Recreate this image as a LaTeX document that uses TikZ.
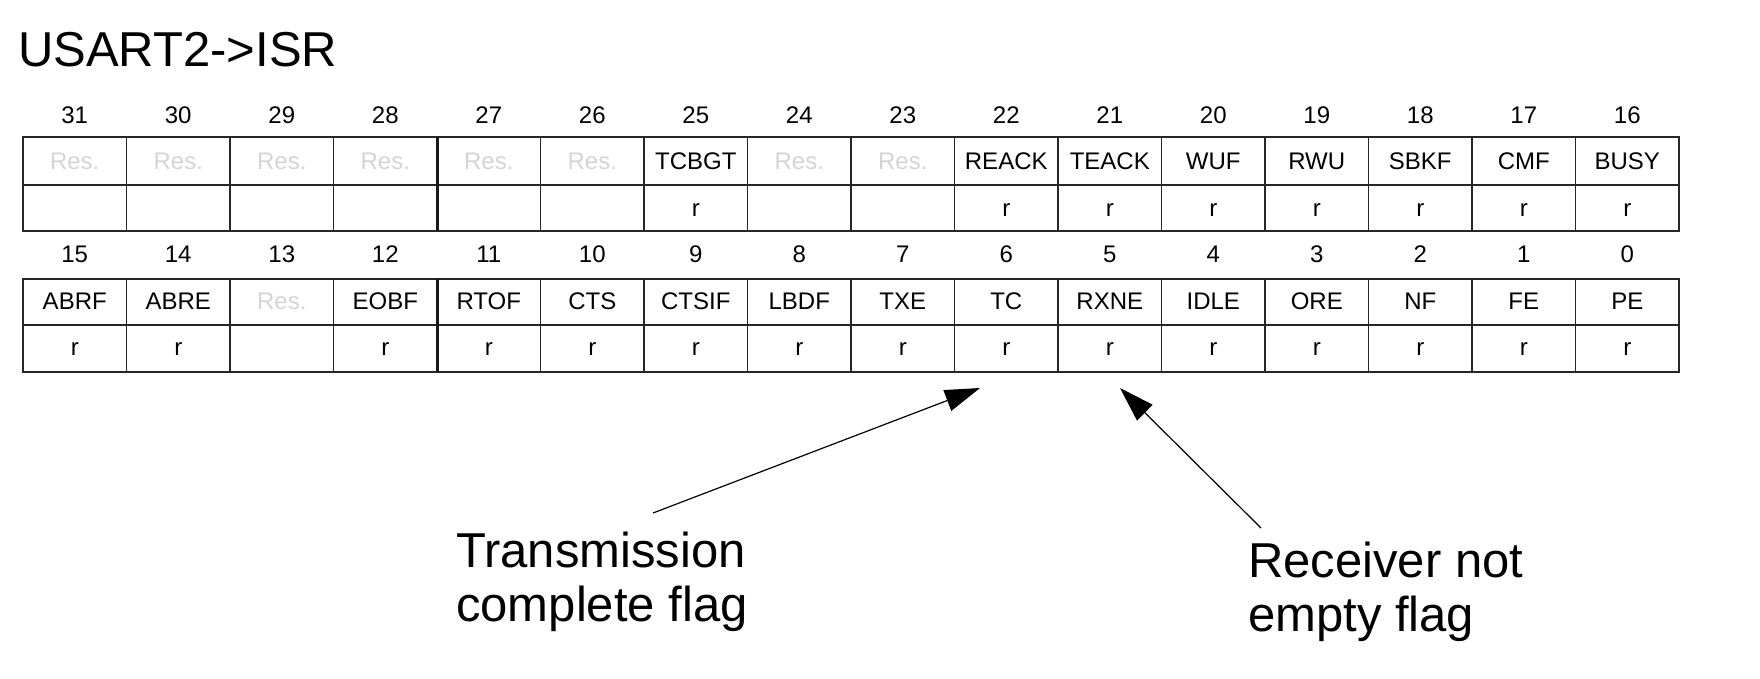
\documentclass[tikz,border=0pt]{standalone}
\usepackage{fontspec}
\setmainfont{Liberation Sans}
\usetikzlibrary{arrows.meta}
\begin{document}
\begin{tikzpicture}[x=1pt,y=-1pt,
  cell/.style={anchor=base,inner sep=0pt,text=black,font=\fontsize{24}{28}\selectfont},
  res/.style={cell,text=black!17},
  gridline/.style={draw=black!85,line width=1.5pt},
  heavyline/.style={draw=black!90,line width=3pt},
  big/.style={inner sep=0pt,text=black,font=\fontsize{49}{54}\selectfont},
  note/.style={big,anchor=base west,align=left},
  pointer/.style={draw=black,line width=1.2pt,-{Triangle[length=35pt,width=22pt]}}]
\useasboundingbox (0,0) rectangle (1760,678);
\node[big,anchor=base west] (title) at (18,66) {USART2->ISR};
% grids
\foreach \T/\M/\B in {137/185/231, 279/325/372} {
  \draw[gridline] (23,\T) rectangle (1679,\B);
  \draw[gridline] (23,\M) -- (1679,\M);
  \foreach \c in {1,2,3,5,6,...,15} \draw[gridline] ({23+\c*103.5},\T) -- ({23+\c*103.5},\B);
  \draw[heavyline] (437,\T) -- (437,\B);
}
% upper register half
\foreach \lab/\sty [count=\i from 0] in {Res./res,Res./res,Res./res,Res./res,Res./res,Res./res,TCBGT/cell,Res./res,Res./res,REACK/cell,TEACK/cell,WUF/cell,RWU/cell,SBKF/cell,CMF/cell,BUSY/cell} {
  \pgfmathtruncatemacro{\bit}{31-\i}
  \node[cell] (n\bit) at ({74.75+103.5*\i},123) {\bit};
  \node[\sty] (f\bit) at ({74.75+103.5*\i},169) {\lab};
}
\foreach \i in {6,9,10,...,15} {
  \pgfmathtruncatemacro{\bit}{31-\i}
  \node[cell] (a\bit) at ({74.75+103.5*\i},216) {r};
}
% lower register half
\foreach \lab/\sty [count=\i from 0] in {ABRF/cell,ABRE/cell,Res./res,EOBF/cell,RTOF/cell,CTS/cell,CTSIF/cell,LBDF/cell,TXE/cell,TC/cell,RXNE/cell,IDLE/cell,ORE/cell,NF/cell,FE/cell,PE/cell} {
  \pgfmathtruncatemacro{\bit}{15-\i}
  \node[cell] (n\bit) at ({74.75+103.5*\i},262) {\bit};
  \node[\sty] (f\bit) at ({74.75+103.5*\i},309) {\lab};
}
\foreach \i in {0,1,3,4,...,15} {
  \pgfmathtruncatemacro{\bit}{15-\i}
  \node[cell] (a\bit) at ({74.75+103.5*\i},355) {r};
}
% annotations (base anchor = baseline of the last line)
\node[note] (tcnote) at (456,621) {Transmission\\complete flag};
\node[note] (rxnote) at (1248,631) {Receiver not\\empty flag};
\coordinate (tcfrom) at (653,513);
\coordinate (tctip) at (980,388);
\coordinate (rxfrom) at (1261,528);
\coordinate (rxtip) at (1120,388);
\draw[pointer] (tcfrom) -- (tctip);
\draw[pointer] (rxfrom) -- (rxtip);
\end{tikzpicture}
\end{document}
